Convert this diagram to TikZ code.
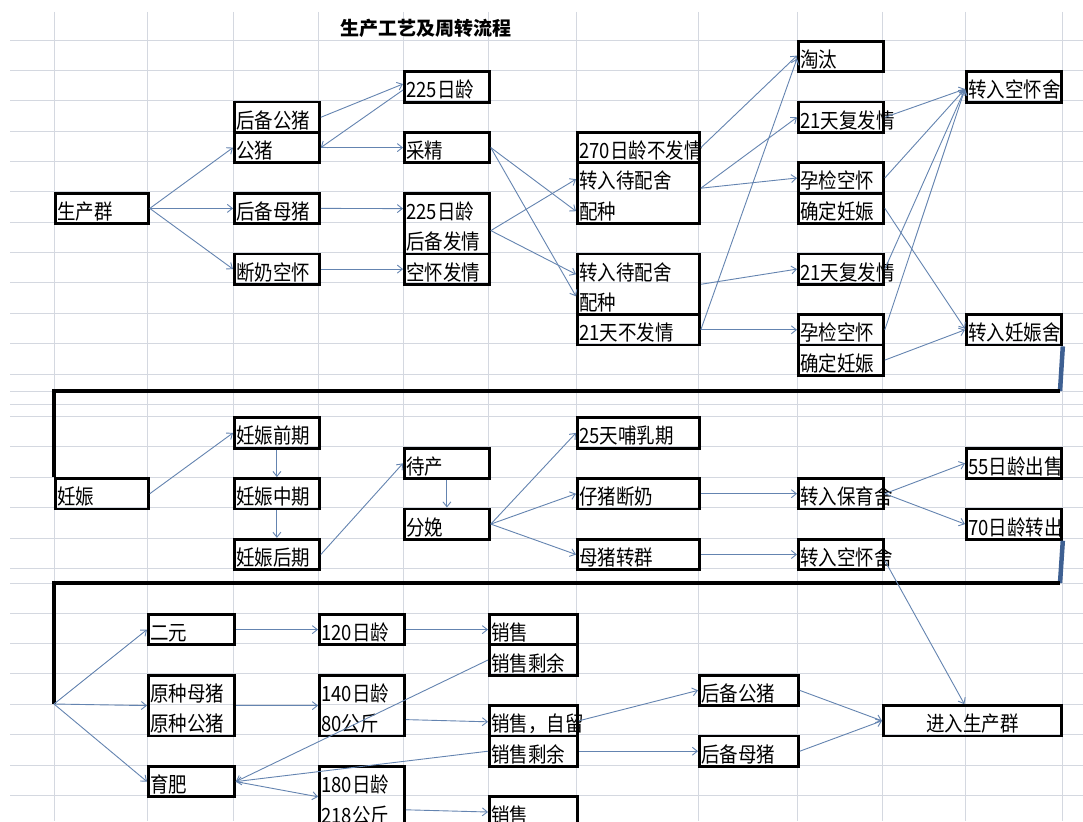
\documentclass[tikz,border=0pt]{standalone}
\usepackage{fontspec}
\usetikzlibrary{arrows.meta}
\newfontfamily\cellfont[FakeStretch=0.88]{Noto Sans CJK SC}
\newfontfamily\titlefont{Noto Sans CJK SC}
\definecolor{gridgray}{RGB}{212,216,224}
\definecolor{flowblue}{RGB}{100,132,176}
\definecolor{barblue}{RGB}{62,96,146}

\begin{document}
\begin{tikzpicture}[x=1pt,y=-1pt,
    cell/.style={draw, line width=2.8pt, anchor=north west, inner xsep=2pt, inner ysep=0pt,
      minimum height=30.4pt, text width=#1, align=left, text height=22pt, text depth=0pt,
      font=\cellfont\fontsize{21}{30.4}\selectfont},
    cell/.default=81pt,
    two/.style={minimum height=60.8pt, text depth=30.4pt},
    flow/.style={color=flowblue, line width=0.9pt, -{Straight Barb[length=5pt,width=8pt]}},
    bar/.style={draw=barblue, line width=4.5pt},
    rule/.style={draw, line width=3.2pt}]
    \useasboundingbox (0,0) rectangle (1083,821);
    \clip (0,0) rectangle (1083,821);
    \fill[white] (0,0) rectangle (1083,821);

    % sheet grid
    \foreach \y in {40,70.4,100.7,131,161.4,191.8,222.1,252.5,282.8,313.2,343.5,373.9,
        391,404,416.3,446.7,477.1,507.5,537.9,568.3,583,613,643.4,673.8,704.2,734.6,765,795.4}
        \draw[gridgray, line width=0.8pt] (10,\y) -- (1083,\y);
    \foreach \x in {54,147,233,318,403,488,576,698,797,882,965,1062}
        \draw[gridgray, line width=0.8pt] (\x,12) -- (\x,821);

    \node[font=\titlefont\bfseries\fontsize{19}{19}\selectfont] (title) at (426,28) {生产工艺及周转流程};

    % breeding herd
    \node[cell=89pt] (scq) at (54,191.8) {生产群};
    \node[cell] (hbgz) at (233,100.7) {后备公猪};
    \node[cell] (gz) at (233,131) {公猪};
    \node[cell] (hbmz) at (233,191.8) {后备母猪};
    \node[cell] (dnkh) at (233,252.5) {断奶空怀};
    \node[cell] (ry225) at (403,70.4) {225日龄};
    \node[cell] (cj) at (403,131) {采精};
    \node[cell, two] (hbfq) at (403,191.8) {225日龄\\后备发情};
    \node[cell] (khfq) at (403,252.5) {空怀发情};
    \node[cell=118pt] (bfq270) at (576,131) {270日龄不发情};
    \node[cell=118pt, two] (dps1) at (576,161.4) {转入待配舍\\配种};
    \node[cell=118pt, two] (dps2) at (576,252.5) {转入待配舍\\配种};
    \node[cell=118pt] (bfq21) at (576,313.2) {21天不发情};
    \node[cell] (tt) at (797,40) {淘汰};
    \node[cell] (ffq1) at (797,100.7) {21天复发情};
    \node[cell] (yjkh1) at (797,161.4) {孕检空怀};
    \node[cell] (qdrs1) at (797,191.8) {确定妊娠};
    \node[cell] (ffq2) at (797,252.5) {21天复发情};
    \node[cell] (yjkh2) at (797,313.2) {孕检空怀};
    \node[cell] (qdrs2) at (797,343.5) {确定妊娠};
    \node[cell=91pt] (zkhs) at (965,70.4) {转入空怀舍};
    \node[cell=91pt] (zrss) at (965,313.2) {转入妊娠舍};

    \path[flow] (scq.east) edge (gz.west) edge (hbmz.west) edge (dnkh.west);
    \path[flow] (hbgz.east) edge ([yshift=3pt]ry225.west);
    \path[flow] ([yshift=-3pt]ry225.west) edge (gz.east);
    \path[flow] (gz.east) edge (cj.west);
    \path[flow] (hbmz.east) edge ([yshift=15pt]hbfq.west);
    \path[flow] (dnkh.east) edge (khfq.west);
    \path[flow] (cj.east) edge ([yshift=-18pt]dps1.west) edge ([yshift=-12pt]dps2.west);
    \path[flow] ([yshift=-7pt]hbfq.east) edge ([yshift=14pt]dps1.west) edge ([yshift=10pt]dps2.west);
    \path[flow] (bfq270.east) edge ([yshift=1pt]tt.west);
    \path[flow] (bfq21.east) edge ([yshift=-2pt]tt.west) edge (yjkh2.west);
    \path[flow] ([yshift=5pt]dps1.east) edge (ffq1.west) edge (yjkh1.west);
    \path[flow] (dps2.east) edge (ffq2.west);
    \path[flow] (ffq1.east) edge ([yshift=-2pt]zkhs.west);
    \path[flow] (yjkh1.east) edge ([yshift=-2pt]zkhs.west);
    \path[flow] (ffq2.east) edge ([yshift=-2pt]zkhs.west);
    \path[flow] (yjkh2.east) edge ([yshift=-2pt]zkhs.west);
    \path[flow] (qdrs1.east) edge ([yshift=1pt]zrss.west);
    \path[flow] (qdrs2.east) edge (zrss.west);

    % gestation and farrowing
    \node[cell=89pt] (rs) at (54,477.1) {妊娠};
    \node[cell] (rsqq) at (233,416.3) {妊娠前期};
    \node[cell] (rszq) at (233,477.1) {妊娠中期};
    \node[cell] (rshq) at (233,537.9) {妊娠后期};
    \node[cell] (dc) at (403,446.7) {待产};
    \node[cell] (fm) at (403,507.5) {分娩};
    \node[cell=118pt] (brq) at (576,416.3) {25天哺乳期};
    \node[cell=118pt] (zzdn) at (576,477.1) {仔猪断奶};
    \node[cell=118pt] (mzzq) at (576,537.9) {母猪转群};
    \node[cell] (zbys) at (797,477.1) {转入保育舍};
    \node[cell] (zkhs2) at (797,537.9) {转入空怀舍};
    \node[cell=91pt] (cs55) at (965,446.7) {55日龄出售};
    \node[cell=91pt] (zc70) at (965,507.5) {70日龄转出};

    \coordinate (turn1) at (1060,391);
    \coordinate (corner1) at (54,391);
    \draw[bar] (zrss.south east) -- (turn1);
    \draw[rule] (turn1) -- (corner1) -- (rs.north west);

    \path[flow] (rs.east) edge (rsqq.west);
    \path[flow] (rsqq.south) edge (rszq.north);
    \path[flow] (rszq.south) edge (rshq.north);
    \path[flow] (rshq.east) edge (dc.west);
    \path[flow] (dc.south) edge (fm.north);
    \path[flow] (fm.east) edge (brq.west) edge (zzdn.west) edge (mzzq.west);
    \path[flow] (zzdn.east) edge (zbys.west);
    \path[flow] (mzzq.east) edge (zkhs2.west);
    \path[flow] (zbys.east) edge (cs55.west) edge (zc70.west);

    % piglets to market
    \node[cell=82pt] (ey) at (147,613) {二元};
    \node[cell] (ry120) at (318,613) {120日龄};
    \node[cell=84pt] (xs1) at (488,613) {销售};
    \node[cell=84pt] (xssy1) at (488,643.4) {销售剩余};
    \node[cell=82pt, two] (yz) at (147,673.8) {原种母猪\\原种公猪};
    \node[cell, two] (ry140) at (318,673.8) {140日龄\\80公斤};
    \node[cell=84pt] (xszl) at (488,704.2) {销售，自留};
    \node[cell=84pt] (xssy2) at (488,734.6) {销售剩余};
    \node[cell=82pt] (yf) at (147,765) {育肥};
    \node[cell, two] (ry180) at (318,765) {180日龄\\218公斤};
    \node[cell=84pt] (xs3) at (488,795.4) {销售};
    \node[cell=95pt] (hbgz2) at (698,673.8) {后备公猪};
    \node[cell=95pt] (hbmz2) at (698,734.6) {后备母猪};
    \node[cell=174pt, align=center] (jrscq) at (882,704.2) {进入生产群};

    \coordinate (turn2) at (1060,583);
    \coordinate (corner2) at (54,583);
    \coordinate (fork) at (54,704);
    \draw[bar] (zc70.south east) -- (turn2);
    \draw[rule] (turn2) -- (corner2) -- (fork);

    \path[flow] ([yshift=-6pt]zkhs2.east) edge ([xshift=-8pt]jrscq.north);
    \path[flow] (fork) edge (ey.west) edge (yz.west) edge (yf.west);
    \path[flow] (ey.east) edge (ry120.west);
    \path[flow] (ry120.east) edge (xs1.west);
    \path[flow] (yz.east) edge (ry140.west);
    \path[flow] ([yshift=-14pt]ry140.east) edge ([yshift=-1pt]xszl.west);
    \path[flow] (xssy1.west) edge (yf.east);
    \path[flow] (xssy2.west) edge (yf.east);
    \path[flow] (yf.east) edge (ry180.west);
    \path[flow] ([yshift=-13pt]ry180.east) edge (xs3.west);
    \path[flow] (xszl.east) edge (hbgz2.west);
    \path[flow] (xssy2.east) edge (hbmz2.west);
    \path[flow] (hbgz2.east) edge (jrscq.west);
    \path[flow] (hbmz2.east) edge (jrscq.west);
\end{tikzpicture}
\end{document}
